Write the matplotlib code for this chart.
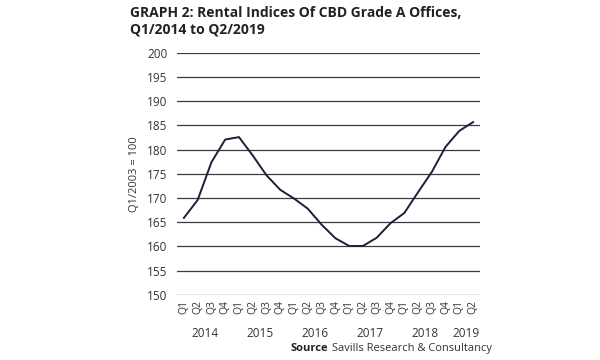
import matplotlib
matplotlib.use("Agg")
import matplotlib.pyplot as plt

# rental index, Q1/2003 = 100
years = ["2014", "2015", "2016", "2017", "2018", "2019"]
quarters = ["Q1", "Q2", "Q3", "Q4"] * 5 + ["Q1", "Q2"]
index_values = [
    165.9, 169.6, 177.4, 182.1, 182.6, 178.8, 174.7, 171.7,
    169.9, 167.8, 164.5, 161.7, 160.1, 160.1, 161.8, 164.8,
    166.9, 171.2, 175.4, 180.6, 183.9, 185.7,
]
yticks = [150, 155, 160, 165, 170, 175, 180, 185, 190, 195, 200]

plt.rcParams["font.family"] = ["Open Sans", "DejaVu Sans"]

fig = plt.figure(figsize=(6, 3.6), dpi=100)
ax = fig.add_axes([0.295, 0.181, 0.505, 0.672])

x = list(range(len(index_values)))
ax.plot(x, index_values, color="#1b1f3b", lw=1.4, zorder=3)

for v in yticks:
    ax.axhline(v, color="#3c3c3c", lw=0.9, zorder=1)

ax.set_xlim(-0.5, 21.5)
ax.set_ylim(150, 200)
ax.set_yticks(yticks)
ax.set_yticklabels([str(v) for v in yticks], fontsize=8.5, color="#333333")
ax.set_xticks(x)
ax.set_xticklabels(quarters, rotation=90, fontsize=7.5, color="#333333")
ax.tick_params(length=0, pad=7)
ax.tick_params(axis="x", pad=4)
for s in ax.spines.values():
    s.set_visible(False)

ax.set_ylabel("Q1/2003 = 100", fontsize=8, color="#333333", labelpad=5)

# year labels centred under their quarters
for i, yr in enumerate(years):
    start = i * 4
    end = min(start + 3, len(index_values) - 1)
    ax.text((start + end) / 2, -0.158, yr, transform=ax.get_xaxis_transform(),
            ha="center", va="center", fontsize=8.5, color="#333333")

fig.text(0.217, 0.982, "GRAPH 2: Rental Indices Of CBD Grade A Offices,\nQ1/2014 to Q2/2019",
         ha="left", va="top", fontsize=10, fontweight="bold", color="#222222",
         linespacing=1.2)

src = fig.text(0.82, 0.033, "Savills Research & Consultancy", ha="right", va="center",
               fontsize=8, color="#333333")
fig.canvas.draw()
bb = src.get_window_extent()
fig.text(bb.x0 / fig.bbox.width - 0.006, 0.033, "Source", ha="right", va="center",
         fontsize=8, fontweight="bold", color="#222222")

fig.savefig("out.png", dpi=100)
